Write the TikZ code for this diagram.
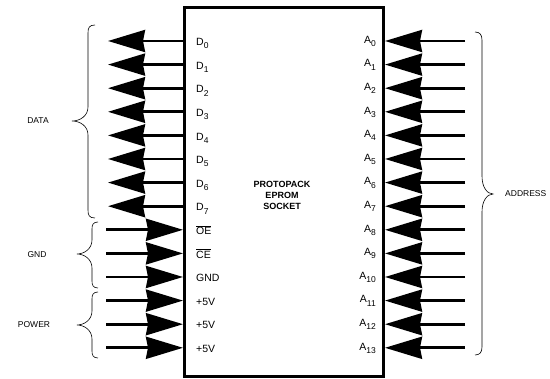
\documentclass[tikz,border=0pt]{standalone}
\usepackage{fontspec}
\setmainfont{Liberation Sans}
\usetikzlibrary{arrows.meta}
\newcommand\pinsub[1]{\raisebox{-0.3em}{\fontsize{8.5}{8.5}\selectfont #1}}
\newcommand\ovl[1]{$\overline{\mbox{#1}}$}
\begin{document}
\begin{tikzpicture}[x=1pt,y=-1pt,
  wire/.style={line width=2.8pt},
  pinarrow/.style={wire,-{Stealth[length=37pt,width=22pt,inset=2pt]}},
  pinlbl/.style={font=\fontsize{10.5}{12}\selectfont, inner sep=0pt},
  grplbl/.style={font=\fontsize{8.5}{10}\selectfont, inner sep=0pt},
  titlelbl/.style={font=\fontsize{9}{11}\selectfont\bfseries, align=center, inner sep=0pt},
  chipbox/.style={draw, line width=3pt, inner sep=0pt, minimum width=199pt, minimum height=369pt},
  bracepath/.style={line width=0.6pt},
]
\useasboundingbox (0,0) rectangle (550,379);
\node[chipbox] (chip) at (283.5,192.5) {};
\node[titlelbl] (title) at (282,195) {PROTOPACK\\EPROM\\SOCKET};
% left outputs D0..D7
\foreach \i in {0,...,7} {
  \coordinate (L\i) at (184,{41+23.6*\i});
  \coordinate (LE\i) at (108,{41+23.6*\i});
  \draw[pinarrow] (L\i) -- (LE\i);
}
% left inputs
\foreach \i in {8,...,13} {
  \coordinate (LS\i) at (106,{41+23.6*\i});
  \coordinate (L\i) at (183,{41+23.6*\i});
  \draw[pinarrow] (LS\i) -- (L\i);
}
% right inputs
\foreach \i in {0,...,13} {
  \coordinate (RS\i) at (465,{41+23.6*\i});
  \coordinate (R\i) at (385,{41+23.6*\i});
  \draw[pinarrow] (RS\i) -- (R\i);
}
% left labels
\foreach \i/\t in {0/D\pinsub{0},1/D\pinsub{1},2/D\pinsub{2},3/D\pinsub{3},4/D\pinsub{4},5/D\pinsub{5},6/D\pinsub{6},7/D\pinsub{7},8/\ovl{OE},9/\ovl{CE},10/GND,11/+5V,12/+5V,13/+5V} {
  \node[pinlbl, anchor=base west] (ll\i) at (196,{41+23.6*\i+4.8}) {\t};
}
% right labels
\foreach \i in {0,...,13} {
  \node[pinlbl, anchor=base east] (rl\i) at (376,{41+23.6*\i+2.3}) {A\pinsub{\i}};
}
% braces
\draw[bracepath] (95,25) .. controls (89,25) and (88,28) .. (88,33) -- (88,107)
  .. controls (88,116) and (80,121) .. (72,121) .. controls (80,121) and (88,126) .. (88,135)
  -- (88,210) .. controls (88,215) and (89,218) .. (95,218);
\draw[bracepath] (98,222) .. controls (93,222) and (92,225) .. (92,229) -- (92,240)
  .. controls (92,249) and (84,254) .. (77,254) .. controls (84,254) and (92,259) .. (92,268)
  -- (92,281) .. controls (92,285) and (93,288) .. (98,288);
\draw[bracepath] (98,292) .. controls (93,292) and (92,295) .. (92,299) -- (92,311)
  .. controls (92,320) and (84,325) .. (77,325) .. controls (84,325) and (92,330) .. (92,339)
  -- (92,351) .. controls (92,355) and (93,358) .. (98,358);
\draw[bracepath] (475,32) .. controls (480,32) and (482,35) .. (482,40) -- (482,176)
  .. controls (482,187) and (487,194) .. (493,194) .. controls (487,194) and (482,201) .. (482,212)
  -- (482,347) .. controls (482,352) and (480,355) .. (475,355);
% group labels
\node[grplbl] (data) at (38,121) {DATA};
\node[grplbl] (gnd) at (37,254.5) {GND};
\node[grplbl] (power) at (34,324.5) {POWER};
\node[grplbl, anchor=west] (addr) at (505,194) {ADDRESS};
\end{tikzpicture}
\end{document}
